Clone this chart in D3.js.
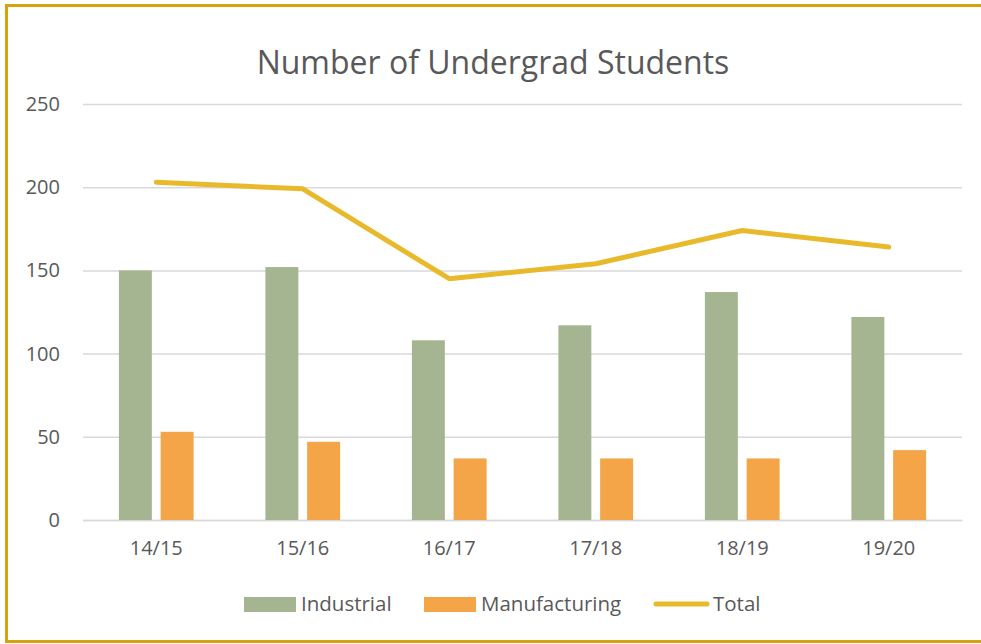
<!DOCTYPE html>
<html>
<head>
<meta charset="utf-8">
<script src="https://cdn.jsdelivr.net/npm/d3@7"></script>
<style>
  body { margin: 0; background: #fff; }
  text { font-family: "Open Sans", sans-serif; fill: #595959; }
</style>
</head>
<body>
<div id="chart"></div>
<script>
// chart data
const years = ['14/15', '15/16', '16/17', '17/18', '18/19', '19/20'];
const industrial = [150, 152, 108, 117, 137, 122];
const manufacturing = [53, 47, 37, 37, 37, 42];
const total = [203, 199, 145, 154, 174, 164];
const yTicks = [0, 50, 100, 150, 200, 250];

const width = 981, height = 644;
const plot = { left: 83, right: 962, top: 104, bottom: 520 };

const svg = d3.select('#chart').append('svg')
    .attr('width', width)
    .attr('height', height);

// gold frame (right edge runs off the picture)
svg.append('rect')
    .attr('x', 6.5).attr('y', 5.5)
    .attr('width', 1000).attr('height', 636)
    .attr('fill', 'none')
    .attr('stroke', '#d8a20c')
    .attr('stroke-width', 3);

svg.append('text')
    .attr('x', 493).attr('y', 74)
    .attr('text-anchor', 'middle')
    .style('font-size', '32px')
    .text('Number of Undergrad Students');

const x = d3.scaleBand().domain(years).range([plot.left, plot.right]);
const y = d3.scaleLinear().domain([0, 250]).range([plot.bottom, plot.top]);

const bw = x.bandwidth() * 0.225;
const gap = x.bandwidth() * 0.06;

// gridlines + y labels
const yAxis = d3.axisLeft(y).tickValues(yTicks).tickSize(-(plot.right - plot.left)).tickPadding(23);
const gy = svg.append('g').attr('transform', `translate(${plot.left},0)`).call(yAxis);
gy.select('.domain').remove();
gy.selectAll('.tick line').attr('stroke', '#d9d9d9').attr('stroke-width', 1.5);
gy.selectAll('.tick text').style('font-size', '20px').attr('fill', '#595959');

// x axis baseline + labels
const xAxis = d3.axisBottom(x).tickSize(0).tickPadding(21);
const gx = svg.append('g').attr('transform', `translate(0,${plot.bottom})`).call(xAxis);
gx.select('.domain').attr('stroke', '#d9d9d9').attr('stroke-width', 1.5);
gx.selectAll('.tick text').style('font-size', '20px').attr('fill', '#595959');

// bars
svg.append('g').selectAll('rect')
    .data(years)
    .enter().append('rect')
    .attr('x', d => x(d) + x.bandwidth() / 2 - gap / 2 - bw)
    .attr('y', (d, i) => y(industrial[i]))
    .attr('width', bw)
    .attr('height', (d, i) => y(0) - y(industrial[i]))
    .attr('fill', '#a6b591');

svg.append('g').selectAll('rect')
    .data(years)
    .enter().append('rect')
    .attr('x', d => x(d) + x.bandwidth() / 2 + gap / 2)
    .attr('y', (d, i) => y(manufacturing[i]))
    .attr('width', bw)
    .attr('height', (d, i) => y(0) - y(manufacturing[i]))
    .attr('fill', '#f3a548');

// total line
const line = d3.line()
    .x((d, i) => x(years[i]) + x.bandwidth() / 2)
    .y(d => y(d));

svg.append('path')
    .datum(total)
    .attr('d', line)
    .attr('fill', 'none')
    .attr('stroke', '#e8ba2b')
    .attr('stroke-width', 5)
    .attr('stroke-linecap', 'round')
    .attr('stroke-linejoin', 'round');

// legend
const legend = svg.append('g');
legend.append('rect').attr('x', 244).attr('y', 597).attr('width', 52).attr('height', 15).attr('fill', '#a6b591');
legend.append('text').attr('x', 301).attr('y', 611).style('font-size', '20.5px').text('Industrial');
legend.append('rect').attr('x', 424).attr('y', 597).attr('width', 52).attr('height', 15).attr('fill', '#f3a548');
legend.append('text').attr('x', 481).attr('y', 611).style('font-size', '20.5px').text('Manufacturing');
legend.append('line').attr('x1', 656).attr('x2', 707).attr('y1', 604).attr('y2', 604)
    .attr('stroke', '#e8ba2b').attr('stroke-width', 5).attr('stroke-linecap', 'round');
legend.append('text').attr('x', 713).attr('y', 611).style('font-size', '20.5px').text('Total');
</script>
</body>
</html>
